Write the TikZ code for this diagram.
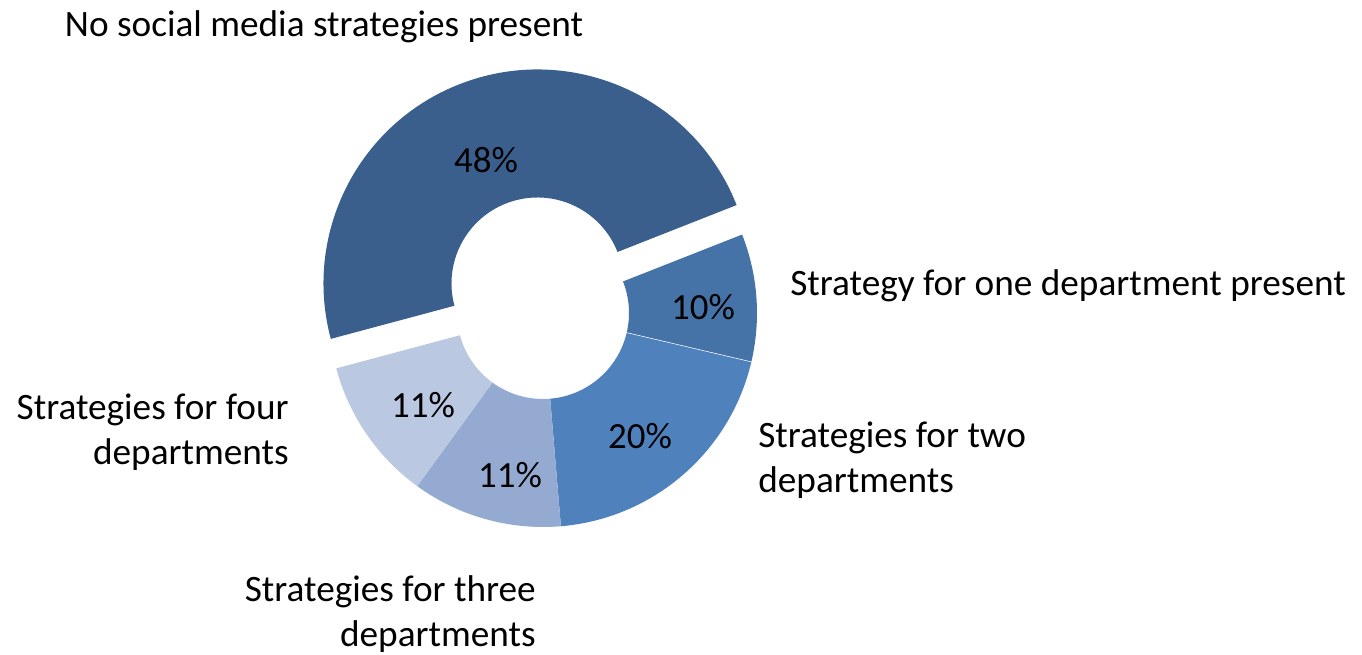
\documentclass[tikz,border=0pt]{standalone}
\usepackage{fontspec}
\setmainfont{Carlito}
\usepackage{xcolor}
\definecolor{noneBlue}{HTML}{3B5F8D}
\definecolor{oneBlue}{HTML}{4573A7}
\definecolor{twoBlue}{HTML}{4F81BD}
\definecolor{threeBlue}{HTML}{95AAD1}
\definecolor{fourBlue}{HTML}{BAC8E1}
\begin{document}
\begin{tikzpicture}[x=0.02cm,y=0.02cm,
  slice/.style={draw=none},
  pct/.style={inner sep=0pt,font=\fontsize{21}{25.6}\selectfont},
  legend/.style={inner sep=0pt,font=\fontsize{21.2}{25.6}\selectfont}]
 \useasboundingbox (0,0) rectangle (1362,655);
 % Exploded slice
 \fill[slice,fill=noneBlue,shift={(537.5,371.5)}] (21.5:214) arc[start angle=21.5,end angle=195,radius=214] -- (195:86) arc[start angle=195,end angle=21.5,radius=86] -- cycle;
 % Remaining slices
 \fill[slice,fill=oneBlue,shift={(543,342)}] (21.5:214) arc[start angle=21.5,end angle=-13.2,radius=214] -- (-13.2:86) arc[start angle=-13.2,end angle=21.5,radius=86] -- cycle;
 \fill[slice,fill=twoBlue,shift={(543,342)}] (-13.2:214) arc[start angle=-13.2,end angle=-85.2,radius=214] -- (-85.2:86) arc[start angle=-85.2,end angle=-13.2,radius=86] -- cycle;
 \fill[slice,fill=threeBlue,shift={(543,342)}] (-85.2:214) arc[start angle=-85.2,end angle=-126,radius=214] -- (-126:86) arc[start angle=-126,end angle=-85.2,radius=86] -- cycle;
 \fill[slice,fill=fourBlue,shift={(543,342)}] (-126:214) arc[start angle=-126,end angle=-165,radius=214] -- (-165:86) arc[start angle=-165,end angle=-126,radius=86] -- cycle;
 \draw[white,line width=0.3pt,shift={(543,342)}] (-13.2:86) -- (-13.2:214);
 % Percentages
 \node[pct] (pctNone) at (486,495) {48\%};
 \node[pct] (pctOne) at (703,348) {10\%};
 \node[pct] (pctTwo) at (640,219) {20\%};
 \node[pct] (pctThree) at (510,180) {11\%};
 \node[pct] (pctFour) at (423,250) {11\%};
 % Category labels
 \node[legend] (labNone) at (324,628) {No social media strategies present};
 \node[legend,anchor=west] (labOne) at (790,369) {Strategy for one department present};
 \node[legend,anchor=west,align=left] (labTwo) at (758,194.5) {Strategies for two\\departments};
 \node[legend,anchor=east,align=right] (labThree) at (536,41) {Strategies for three\\departments};
 \node[legend,anchor=east,align=right] (labFour) at (289,222.5) {Strategies for four\\departments};
\end{tikzpicture}
\end{document}
